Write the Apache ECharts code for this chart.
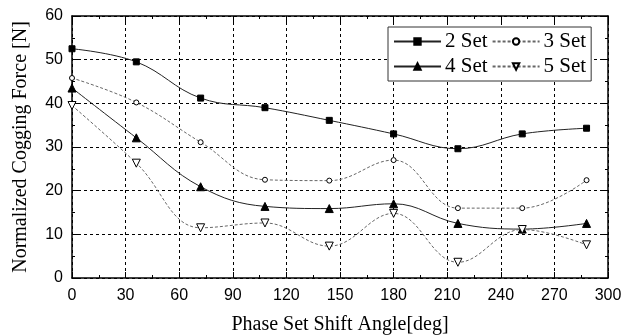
<!DOCTYPE html>
<html><head><meta charset="utf-8">
<script src="https://cdn.jsdelivr.net/npm/echarts@6/dist/echarts.min.js"></script>
<style>html,body{margin:0;padding:0;background:#fff}#c{width:637px;height:336px}</style>
</head><body><div id="c"></div>
<script>
const angles = [0, 36, 72, 108, 144, 180, 216, 252, 288];
const set2 = [52.5, 49.5, 41.2, 39.0, 36.1, 33.0, 29.6, 33.0, 34.3];
const set3 = [45.8, 40.2, 31.1, 22.5, 22.3, 27.0, 16.0, 16.0, 22.4];
const set4 = [43.5, 32.1, 20.9, 16.4, 15.9, 17.0, 12.5, 11.2, 12.5];
const set5 = [39.5, 26.3, 11.5, 12.6, 7.3, 14.8, 3.6, 11.1, 7.6];
const xTicks = [0, 30, 60, 90, 120, 150, 180, 210, 240, 270, 300];
const yTicks = [0, 10, 20, 30, 40, 50, 60];

const serif = '"Liberation Serif", "DejaVu Serif", serif';
const sans = '"Liberation Sans", Arial, sans-serif';
const pair = (arr) => angles.map((a, i) => [a, arr[i]]);
const invTri = 'path://M0,0 L10,0 L5,9 Z';

const chart = echarts.init(document.getElementById('c'));
const axisLine = {show: true, onZero: false, lineStyle: {color: '#000', width: 1.5}};
const mk = (name, data, sym, size, filled, dashed) => ({
  name, type: 'line', data: pair(data), smooth: 0.4,
  symbol: sym, symbolSize: size, showAllSymbol: true,
  lineStyle: {color: dashed ? '#666' : '#222', width: 1, type: dashed ? [3, 2] : 'solid'},
  itemStyle: {color: filled ? '#000' : '#fff', borderColor: '#000', borderWidth: 1},
  emphasis: {disabled: true}, z: 3
});
chart.setOption({
  animation: false,
  grid: {left: 72, right: 29, top: 16, bottom: 58, containLabel: false, outerBoundsMode: 'none'},
  legend: {
    left: 388, top: 27, width: 200, itemWidth: 47, itemHeight: 8, itemGap: 4,
    padding: [4, 5, 4, 5],
    borderColor: '#333', borderWidth: 1, backgroundColor: '#fff',
    textStyle: {fontFamily: serif, fontSize: 21, color: '#000', padding: [2, 0, 2, -1]},
    data: ['2 Set', '3 Set', '4 Set', '5 Set']
  },
  xAxis: [{
    type: 'value', min: 0, max: 300, interval: 30,
    name: 'Phase Set Shift Angle[deg]', nameLocation: 'middle', nameGap: 37,
    nameTextStyle: {fontFamily: serif, fontSize: 20, color: '#000'},
    axisLine, axisTick: {inside: true, length: 6, lineStyle: {color: '#000'}},
    minorTick: {show: true, splitNumber: 2, length: 3, lineStyle: {color: '#000'}},
    axisLabel: {fontFamily: sans, fontSize: 16, color: '#000', margin: 10,
      formatter: v => xTicks.includes(v) ? String(v) : ''},
    splitLine: {show: true, lineStyle: {color: '#000', type: [3, 3], width: 1}}
  }, {
    type: 'value', min: 0, max: 300, interval: 30, position: 'top',
    axisLine, axisTick: {inside: true, length: 6, lineStyle: {color: '#000'}},
    minorTick: {show: true, splitNumber: 2, length: 3, lineStyle: {color: '#000'}},
    axisLabel: {show: false}, splitLine: {show: false}
  }],
  yAxis: [{
    type: 'value', min: 0, max: 60, interval: 10,
    name: 'Normalized Cogging Force [N]', nameLocation: 'middle', nameGap: 41,
    nameTextStyle: {fontFamily: serif, fontSize: 20, color: '#000'},
    axisLine, axisTick: {inside: true, length: 6, lineStyle: {color: '#000'}},
    minorTick: {show: true, splitNumber: 2, length: 3, lineStyle: {color: '#000'}},
    axisLabel: {fontFamily: sans, fontSize: 16, color: '#000', margin: 9,
      formatter: v => yTicks.includes(v) ? String(v) : ''},
    splitLine: {show: true, lineStyle: {color: '#000', type: [3, 3], width: 1}}
  }, {
    type: 'value', min: 0, max: 60, interval: 10, position: 'right',
    axisLine, axisTick: {inside: true, length: 6, lineStyle: {color: '#000'}},
    minorTick: {show: true, splitNumber: 2, length: 3, lineStyle: {color: '#000'}},
    axisLabel: {show: false}, splitLine: {show: false}
  }],
  series: [
    mk('2 Set', set2, 'rect', 6, true, false),
    mk('3 Set', set3, 'circle', 5, false, true),
    mk('4 Set', set4, 'triangle', 8, true, false),
    mk('5 Set', set5, invTri, 8, false, true)
  ]
});
</script></body></html>
